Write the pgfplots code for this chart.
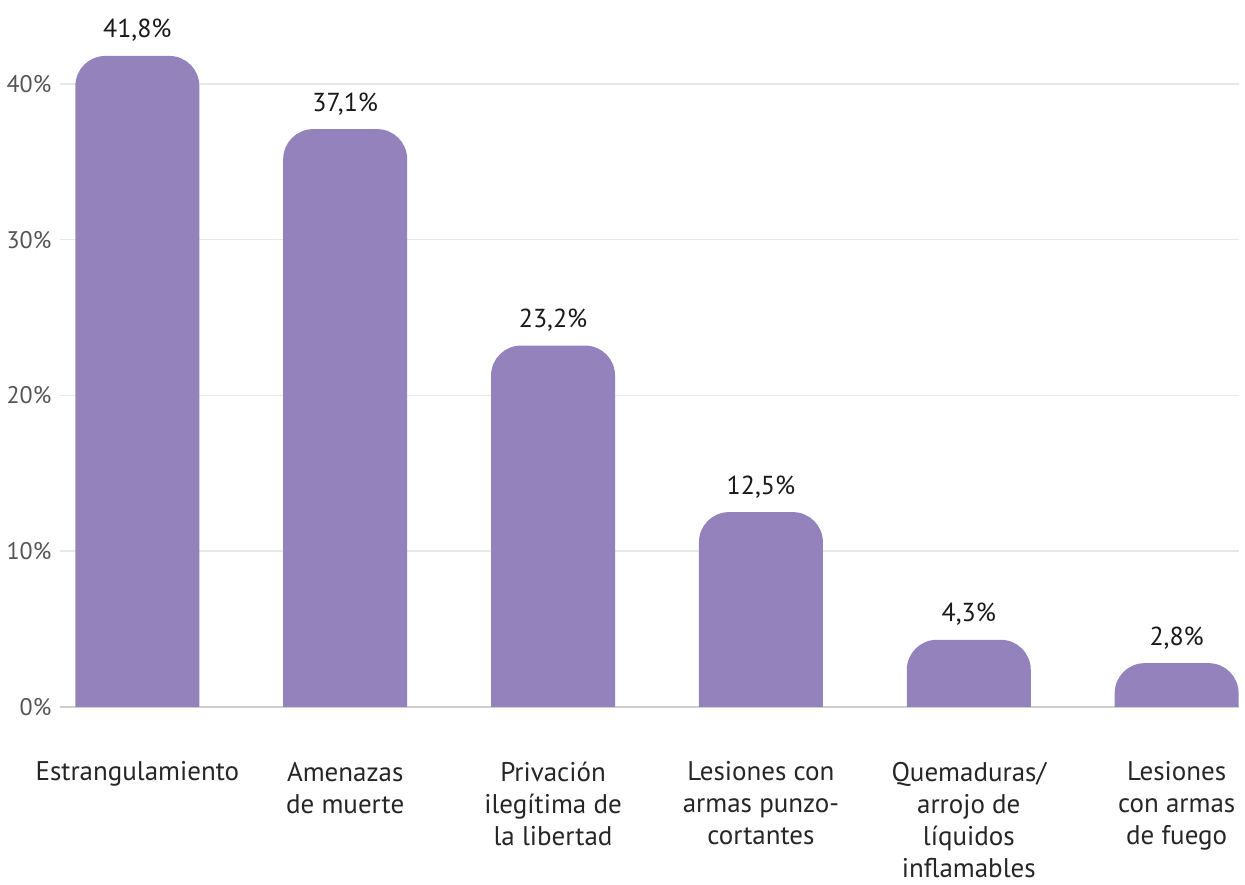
\documentclass[border=0pt]{standalone}
\usepackage{fontspec}
\setmainfont{PT Sans}
\usepackage{pgfplots}
\usepackage{pgfplotstable}
\pgfplotsset{compat=1.18}
\definecolor{barc}{HTML}{9382BC}
\definecolor{gridc}{HTML}{E8E8E8}
\definecolor{basec}{HTML}{CFCFCF}
\definecolor{tickc}{HTML}{555555}
\pgfplotstableread{
x y
0 41.8
1 37.1
2 23.2
3 12.5
4 4.3
5 2.8
}\datatable
\begin{document}
\begin{tikzpicture}
\begin{axis}[
  ybar, bar width=62pt,
  width=589.5pt, height=389.375pt, scale only axis,
  xmin=-0.37, xmax=5.3, ymin=0, ymax=50,
  clip=false,
  axis line style={draw=none},
  major tick length=0pt,
  ytick={5,15,25,35,45},
  yticklabels={0\%,10\%,20\%,30\%,40\%},
  yticklabel style={font=\fontsize{12}{14}\selectfont, text=tickc, anchor=east, xshift=-1pt},
  ymajorgrids, grid style={color=gridc, line width=0.6pt},
  extra y ticks={5}, extra y tick labels={},
  extra y tick style={grid style={color=basec, line width=1pt}},
  xtick={0,1,2,3,4,5},
  xticklabels={Estrangulamiento, Amenazas\\de muerte, Privación\\ilegítima de\\la libertad, Lesiones con\\armas punzo-\\cortantes, Quemaduras/\\arrojo de\\líquidos\\inflamables, Lesiones\\con armas\\de fuego},
  xticklabel style={align=center, font=\fontsize{13.5}{16}\selectfont, text=black!85, anchor=north, yshift=14.9pt},
]
\begin{scope}
% only the part above the zero line is shown, so the bars have rounded tops only
\clip (axis cs:-0.37,5) rectangle (axis cs:5.3,50);
\addplot[bar shift=0pt, fill=barc, draw=none, rounded corners=15pt,
  nodes near coords={\pgfmathprintnumber[fixed,fixed zerofill,precision=1,use comma,assume math mode=true]{\pgfplotspointmeta}\%},
  point meta=\thisrow{y},
  every node near coord/.append style={font=\fontsize{13}{14}\selectfont, text=black!90, anchor=base, yshift=9pt, inner sep=0pt}]
  table[x=x, y expr=\thisrow{y}+5] {\datatable};
\end{scope}
\coordinate (o) at (axis cs:-0.37,5);
\end{axis}
\path[use as bounding box] (o) ++(-30pt,-87.5pt) rectangle ++(622.5pt,441pt);
\end{tikzpicture}
\end{document}
